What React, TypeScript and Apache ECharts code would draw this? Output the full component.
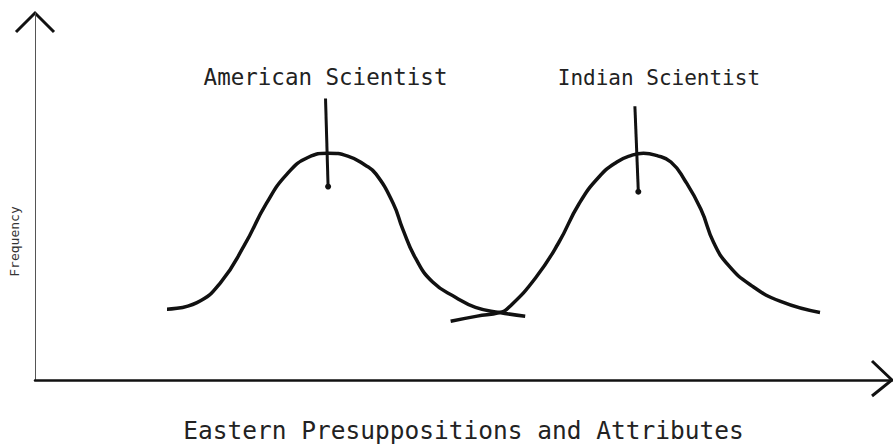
import React, { useEffect, useRef } from "react";
import * as echarts from "echarts";

// Attribute score (x) and frequency (y)
const americanX = [15.4, 18.9, 21.7, 24.4, 27.0, 29.4, 31.9, 34.2, 36.5, 38.5, 39.8, 41.8, 42.9, 44.4, 46.4, 49.1, 51.4, 54.2, 57.2];
const americanY = [19.3, 21.1, 26.7, 36.6, 48.1, 56.1, 60.7, 61.8, 61.0, 58.6, 56.1, 48.1, 41.2, 33.2, 26.7, 22.5, 19.8, 18.4, 17.4];
const indianX = [48.5, 51.6, 54.2, 55.3, 58.4, 61.1, 63.5, 65.8, 67.9, 69.6, 71.0, 72.5, 74.2, 75.8, 77.7, 79.2, 80.9, 83.5, 87.0, 91.6];
const indianY = [16.0, 17.4, 18.4, 19.8, 27.8, 37.4, 48.1, 55.3, 59.4, 61.2, 61.8, 61.2, 59.4, 54.5, 46.5, 37.4, 31.3, 25.9, 21.4, 18.4];

// Marker lines (top and bottom of each pointer)
const markerNames = ["American Scientist", "Indian Scientist"];
const markerX = [[33.9, 34.2], [70.0, 70.4]];
const markerY = [[76.7, 52.7], [74.6, 51.3]];

const xAxisTitle = "Eastern Presuppositions and Attributes";
const yAxisTitle = "Frequency";

const INK = "#111";
const MONO = "'DejaVu Sans Mono', 'Liberation Mono', monospace";

export default function App() {
  const ref = useRef<HTMLDivElement>(null);
  useEffect(() => {
    if (!ref.current) return;
    const chart = echarts.init(ref.current, undefined, { renderer: "svg" });
    const zip = (xs: number[], ys: number[]) => xs.map((x, i) => [x, ys[i]]);
    const labelOffsets = [[0, 0], [24, -8]];
    const labelSizes = [22.5, 21];
    const markerSeries = markerNames.map((name, k) => ({
      type: "line",
      name,
      data: [
        {
          value: [markerX[k][0], markerY[k][0]],
          symbol: "circle",
          symbolSize: 0.01,
          label: {
            show: true,
            position: "top",
            distance: 10,
            offset: labelOffsets[k],
            formatter: name,
            fontFamily: MONO,
            fontSize: labelSizes[k],
            color: "#222",
          },
        },
        { value: [markerX[k][1], markerY[k][1]], symbol: "circle", symbolSize: 6 },
      ],
      showSymbol: true,
      itemStyle: { color: INK },
      lineStyle: { color: INK, width: 3 },
      z: 3,
    }));
    chart.setOption({
      animation: false,
      backgroundColor: "#fff",
      grid: { left: 30, right: 1, top: 13, bottom: 61 },
      xAxis: {
        type: "value",
        min: 0,
        max: 100,
        name: xAxisTitle,
        nameLocation: "middle",
        nameGap: 38,
        nameTextStyle: { fontFamily: MONO, fontSize: 24.5, color: "#222" },
        axisLine: { show: true, lineStyle: { color: INK, width: 2.5 } },
        axisTick: { show: false },
        axisLabel: { show: false },
        splitLine: { show: false },
      },
      yAxis: {
        type: "value",
        min: 0,
        max: 100,
        name: yAxisTitle,
        nameLocation: "middle",
        nameGap: 14,
        nameTextStyle: { fontFamily: MONO, fontSize: 13, color: "#333", padding: [0, 90, 0, 0] },
        axisLine: { show: true, lineStyle: { color: "#555", width: 1 } },
        axisTick: { show: false },
        axisLabel: { show: false },
        splitLine: { show: false },
      },
      series: [
        {
          type: "line",
          name: "American",
          data: zip(americanX, americanY),
          smooth: 0.5,
          showSymbol: false,
          lineStyle: { color: INK, width: 3.5 },
          z: 2,
        },
        {
          type: "line",
          name: "Indian",
          data: zip(indianX, indianY),
          smooth: 0.5,
          showSymbol: false,
          lineStyle: { color: INK, width: 3.5 },
          z: 2,
        },
        ...markerSeries,
      ],
    });
    // Chevron arrowheads at the ends of the axes
    const top = chart.convertToPixel({ gridIndex: 0 }, [0, 100]) as number[];
    const right = chart.convertToPixel({ gridIndex: 0 }, [100, 0]) as number[];
    chart.setOption({
      graphic: [
        {
          type: "polyline",
          shape: { points: [[top[0] - 19, top[1] + 19], [top[0], top[1]], [top[0] + 19, top[1] + 19]] },
          style: { stroke: INK, lineWidth: 3, fill: "none" },
        },
        {
          type: "polyline",
          shape: { points: [[right[0] - 20, right[1] - 19], [right[0], right[1]], [right[0] - 20, right[1] + 16]] },
          style: { stroke: INK, lineWidth: 3, fill: "none" },
        },
      ],
    });
    return () => chart.dispose();
  }, []);
  return <div ref={ref} style={{ width: 893, height: 448, position: "absolute", left: 0, top: 0 }} />;
}
